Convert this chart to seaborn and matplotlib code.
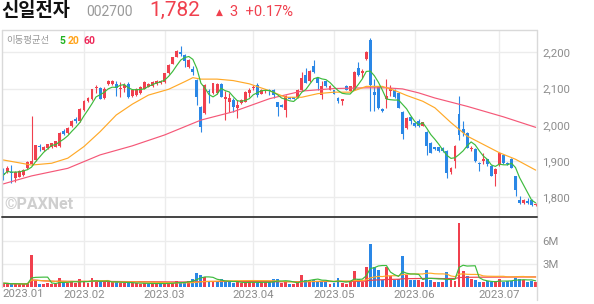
import numpy as np
import pandas as pd
import matplotlib
matplotlib.use("Agg")
import matplotlib.pyplot as plt
import seaborn as sns

# ---------------- data ----------------
opens = [1868,1871,1870,1852,1857,1862,1880,1892,1903,1942,
         1930,1935,1938,1940,1942,1983,1977,1997,2017,2011,
         2041,2065,2070,2101,2101,2074,2112,2112,2112,2099,
         2101,2112,2080,2082,2087,2100,2105,2107,2112,2115,
         2118,2142,2169,2188,2202,2193,2160,2155,2124,2049,
         2033,2094,2087,2087,2112,2072,2064,2068,2046,2059,
         2064,2088,2101,2110,2086,2092,2097,2097,2062,2056,
         2042,2076,2076,2076,2097,2138,2120,2163,2129,2083,
         2120,2097,2095,2074,2065,2108,2094,2097,2158,2143,
         2182,2235,2090,2106,2044,2071,2093,2097,2088,2035,
         1991,2021,2006,2010,1998,1980,1950,1938,1938,1937,
         1928,1870,1900,2030,1988,1978,1932,1934,1895,1900,
         1905,1886,1863,1888,1916,1895,1906,1858,1793,1785,
         1790,1792,1778]
highs = [1882,1886,1889,1872,1875,1877,1900,2024,1945,1948,
         1942,1948,1951,1956,1981,1988,1994,2013,2021,2045,
         2069,2076,2100,2110,2103,2103,2124,2124,2122,2119,
         2114,2119,2098,2101,2107,2121,2114,2121,2124,2123,
         2144,2167,2188,2206,2216,2195,2181,2161,2127,2051,
         2112,2098,2116,2114,2114,2092,2087,2073,2068,2070,
         2093,2101,2110,2114,2099,2099,2099,2099,2064,2058,
         2081,2078,2078,2099,2145,2157,2150,2178,2131,2120,
         2122,2110,2097,2076,2072,2110,2108,2148,2172,2154,
         2203,2239,2125,2108,2046,2125,2111,2099,2090,2037,
         2021,2024,2008,2015,2009,1982,1952,1940,1940,1939,
         1930,1884,1943,2079,2010,1980,1941,1936,1897,1923,
         1907,1888,1881,1925,1918,1897,1908,1860,1804,1795,
         1799,1795,1785]
lows = [1847,1866,1839,1843,1855,1860,1878,1890,1900,1927,
        1927,1933,1936,1938,1940,1973,1975,1995,2005,2009,
        2039,2062,2068,2088,2070,2072,2110,2110,2079,2077,
        2091,2075,2078,2080,2085,2098,2103,2105,2110,2113,
        2116,2140,2167,2186,2190,2160,2158,2137,2055,1980,
        2030,2059,2085,2085,2076,2013,2036,2036,2018,2057,
        2062,2078,2096,2077,2084,2087,2083,2074,2024,2048,
        2022,2070,2070,2074,2092,2115,2118,2143,2097,2070,
        2104,2095,2084,2060,2056,2095,2092,2095,2134,2129,
        2180,2037,2037,2044,2036,2047,2079,2074,2045,1962,
        1989,2001,1994,1994,1996,1918,1921,1930,1925,1926,
        1854,1863,1882,1959,1969,1935,1927,1898,1872,1891,
        1886,1858,1831,1886,1893,1889,1880,1804,1781,1781,
        1781,1777,1776]
closes = [1861,1882,1866,1869,1873,1875,1898,1901,1943,1938,
          1940,1946,1949,1954,1978,1976,1992,2011,2011,2043,
          2067,2073,2098,2104,2072,2100,2121,2122,2101,2101,
          2110,2077,2096,2099,2105,2119,2112,2119,2122,2121,
          2142,2165,2186,2204,2196,2177,2179,2147,2077,1994,
          2110,2090,2114,2112,2078,2077,2073,2050,2055,2068,
          2091,2096,2105,2082,2096,2096,2093,2081,2049,2050,
          2079,2072,2072,2097,2129,2116,2148,2145,2116,2108,
          2106,2108,2086,2065,2070,2097,2106,2145,2136,2148,
          2201,2111,2081,2046,2038,2079,2102,2076,2047,1976,
          2019,2010,1996,1998,2007,1941,1923,1932,1927,1928,
          1868,1882,1941,1971,1978,1937,1937,1900,1891,1905,
          1891,1860,1879,1923,1895,1891,1882,1820,1785,1792,
          1785,1779,1782]
volumes_m = [0.45,0.4,0.3,0.4,0.3,0.35,0.45,4.25,0.8,0.4,
             0.4,0.45,0.4,0.4,1.1,0.45,0.5,0.75,0.45,1.0,
             0.6,0.5,1.15,0.6,0.75,0.6,0.6,0.55,0.7,0.5,
             0.5,0.45,0.5,0.45,0.4,0.45,0.35,0.45,0.4,0.45,
             0.4,0.45,0.5,0.75,0.5,0.6,0.8,1.0,1.85,1.5,
             1.3,0.8,0.7,0.6,1.0,0.7,0.6,0.5,0.6,0.5,
             0.5,0.7,0.6,0.5,0.5,0.6,0.6,1.0,1.0,0.5,
             0.8,0.4,0.4,0.45,1.5,0.9,0.9,0.9,0.8,0.8,
             0.8,0.4,0.5,1.2,0.5,0.4,0.8,2.1,1.05,0.6,
             2.6,5.7,2.6,2.2,0.9,2.6,1.35,0.9,1.05,4.1,
             1.5,0.85,0.85,0.85,0.65,2.25,0.9,0.65,0.65,0.65,
             1.9,0.9,0.8,8.5,2.1,1.35,1.0,0.9,0.65,0.6,
             0.7,0.6,0.7,1.05,0.6,0.75,0.75,1.2,1.05,0.85,
             0.6,0.75,0.6]

# moving averages (they include days before the window)
ma20_day = [0, 7, 12, 16, 20, 24, 28, 32, 36, 41, 45, 47, 49, 53, 57, 61, 66,
            70, 74, 78, 82, 86, 90, 94, 97, 100, 104, 107, 111, 115, 119, 123, 127, 132]
ma20_val = [1903, 1889, 1894, 1908, 1940, 1981, 2027, 2057, 2082, 2098, 2119, 2130, 2126, 2126, 2122, 2113, 2094,
            2076, 2076, 2086, 2090, 2090, 2106, 2106, 2095, 2081, 2065, 2047, 2006, 1969, 1946, 1923, 1905, 1875]
ma60_day = [0, 7, 16, 24, 32, 40, 49, 57, 66, 74, 82, 90, 95, 99, 103, 107, 115, 124, 132]
ma60_val = [1837, 1859, 1880, 1917, 1942, 1972, 2013, 2036, 2072, 2093, 2100, 2102, 2102, 2099, 2088, 2074, 2051, 2022, 1993]

month_labels = ["2023.01", "2023.02", "2023.03", "2023.04", "2023.05", "2023.06", "2023.07"]
month_first_day = [0, 20, 40, 62, 82, 102, 123]
price_ticks = [1800, 1900, 2000, 2100, 2200]
volume_ticks_m = [3, 6]

# ---------------- style ----------------
sns.set_theme(style="white")
plt.rcParams["font.family"] = ["Noto Sans CJK KR", "DejaVu Sans"]

RED = "#f0404e"
BLUE = "#2a87e6"
GREEN = "#3dbb3d"
ORANGE = "#ffa928"
PINK = "#f55878"
GRID = "#ececec"
TXT = "#8c8c8c"

W, H = 594, 304
fig = plt.figure(figsize=(W / 100, H / 100), dpi=100)

def fx(px):
    return px / W

def fy(py):
    return 1 - py / H

x_left, x_right = 2, 537
ax = fig.add_axes([fx(x_left), fy(217), fx(x_right - x_left), fy(30) - fy(217)])
axv = fig.add_axes([fx(x_left), fy(287), fx(x_right - x_left), fy(217) - fy(287)])

n = len(closes)
df = pd.DataFrame({"day": np.arange(n), "open": opens, "high": highs,
                   "low": lows, "close": closes, "vol": volumes_m})
df["up"] = df["close"] >= df["open"]
df["ma5"] = df["close"].rolling(5, min_periods=1).mean()
df["vol_up"] = df["close"].diff().fillna(1) >= 0
df["vma5"] = df["vol"].rolling(5, min_periods=1).mean()
df["vma20"] = df["vol"].rolling(20, min_periods=1).mean()
df["vma60"] = df["vol"].rolling(60, min_periods=1).mean()

xlim = (-0.32, 132.33)

# ---- shared panel setup ----
for a in (ax, axv):
    a.set_xlim(*xlim)
    for s in a.spines.values():
        s.set_visible(False)
    a.set_facecolor("white")
    for d in month_first_day[1:]:
        a.axvline(d, color=GRID, lw=1.0, zorder=0)

# ---- price panel ----
ax.set_ylim(1745.7, 2261.5)
for p in price_ticks:
    ax.axhline(p, color=GRID, lw=1.0, zorder=0)

cols = np.where(df["up"], RED, BLUE)
ax.vlines(df["day"], df["low"], df["high"], colors=cols, lw=0.8, zorder=2)
body_lo = np.minimum(df["open"], df["close"])
body_h = np.maximum(np.abs(df["close"] - df["open"]), 2.0)
ax.bar(df["day"], body_h, bottom=body_lo, width=0.72, color=cols, linewidth=0, zorder=3)

ma20_df = pd.DataFrame({"day": ma20_day, "v": ma20_val})
ma60_df = pd.DataFrame({"day": ma60_day, "v": ma60_val})
sns.lineplot(data=ma60_df, x="day", y="v", ax=ax, color=PINK, lw=0.85, zorder=4)
sns.lineplot(data=ma20_df, x="day", y="v", ax=ax, color=ORANGE, lw=0.85, zorder=4)
sns.lineplot(data=df, x="day", y="ma5", ax=ax, color=GREEN, lw=0.85, zorder=5)

ax.set_xlabel("")
ax.set_ylabel("")
ax.set_xticks([])
ax.yaxis.tick_right()
ax.set_yticks(price_ticks)
ax.set_yticklabels([f"{p:,}" for p in price_ticks], color=TXT, fontsize=8.2,
                   family=["Roboto", "DejaVu Sans"])
ax.tick_params(axis="y", length=0, pad=4)

# ---- volume panel ----
axv.set_ylim(-0.05, 9.24)
for v in volume_ticks_m:
    axv.axhline(v, color=GRID, lw=1.0, zorder=0)
vcols = np.where(df["vol_up"], RED, BLUE)
axv.bar(df["day"], df["vol"], width=0.72, color=vcols, linewidth=0, zorder=2)
sns.lineplot(data=df, x="day", y="vma60", ax=axv, color=RED, lw=0.85, zorder=3)
sns.lineplot(data=df, x="day", y="vma20", ax=axv, color=ORANGE, lw=0.85, zorder=3)
sns.lineplot(data=df, x="day", y="vma5", ax=axv, color=GREEN, lw=0.85, zorder=4)
axv.set_xlabel("")
axv.set_ylabel("")
axv.yaxis.tick_right()
axv.set_yticks(volume_ticks_m)
axv.set_yticklabels([f"{v}M" for v in volume_ticks_m], color=TXT, fontsize=8.2,
                    family=["Roboto", "DejaVu Sans"])
axv.tick_params(axis="y", length=0, pad=4)
axv.set_xticks(month_first_day[1:])
axv.set_xticklabels(month_labels[1:], color=TXT, fontsize=8.2,
                    family=["Roboto", "DejaVu Sans"])
axv.tick_params(axis="x", length=0, pad=2)
axv.text(xlim[0] + 0.2, -0.28, month_labels[0], transform=axv.transData,
         ha="left", va="top", color=TXT, fontsize=8.2, family=["Roboto", "DejaVu Sans"])

# ---- frame lines ----
fig.add_artist(plt.Line2D([fx(x_left), fx(x_right)], [fy(30), fy(30)], color="#d9d9d9", lw=1.0))
fig.add_artist(plt.Line2D([fx(x_left), fx(x_left)], [fy(30), fy(287)], color="#d9d9d9", lw=1.0))
fig.add_artist(plt.Line2D([fx(x_right), fx(x_right)], [fy(30), fy(300)], color="#d9d9d9", lw=1.0))
fig.add_artist(plt.Line2D([fx(x_left), fx(x_right)], [fy(217), fy(217)], color="#444444", lw=1.4))

# ---- header texts ----
fig.text(fx(1), fy(11), "신일전자", fontsize=13.5, fontweight="bold", color="#111111",
         va="center", ha="left")
fig.text(fx(86), fy(12), "002700", fontsize=10, color="#999999", va="center", ha="left",
         family=["Roboto", "DejaVu Sans"])
fig.text(fx(149), fy(10.5), "1,782", fontsize=15, color=RED, va="center", ha="left",
         family=["Roboto", "DejaVu Sans"])
fig.text(fx(216), fy(12), "▲", fontsize=6.5, color=RED, va="center", ha="left",
         family=["DejaVu Sans"])
fig.text(fx(230), fy(12), "3  +0.17%", fontsize=10.5, color=RED, va="center", ha="left",
         family=["Roboto", "DejaVu Sans"])
fig.text(fx(6), fy(41), "이동평균선", fontsize=6.8, color="#999999", va="center", ha="left")
fig.text(fx(59), fy(41), "5", fontsize=7.5, color="#22b322", va="center", ha="left",
         family=["Roboto", "DejaVu Sans"], fontweight="bold")
fig.text(fx(68), fy(41), "20", fontsize=7.5, color="#ffa31a", va="center", ha="left",
         family=["Roboto", "DejaVu Sans"], fontweight="bold")
fig.text(fx(83), fy(41), "60", fontsize=7.5, color="#ee2a5a", va="center", ha="left",
         family=["Roboto", "DejaVu Sans"], fontweight="bold")
fig.text(fx(4), fy(204), "©PAXNet", fontsize=11.5, color="#cfcfcf", va="center", ha="left",
         fontweight="bold", family=["Roboto", "DejaVu Sans"])

fig.savefig("out.png", dpi=100)
